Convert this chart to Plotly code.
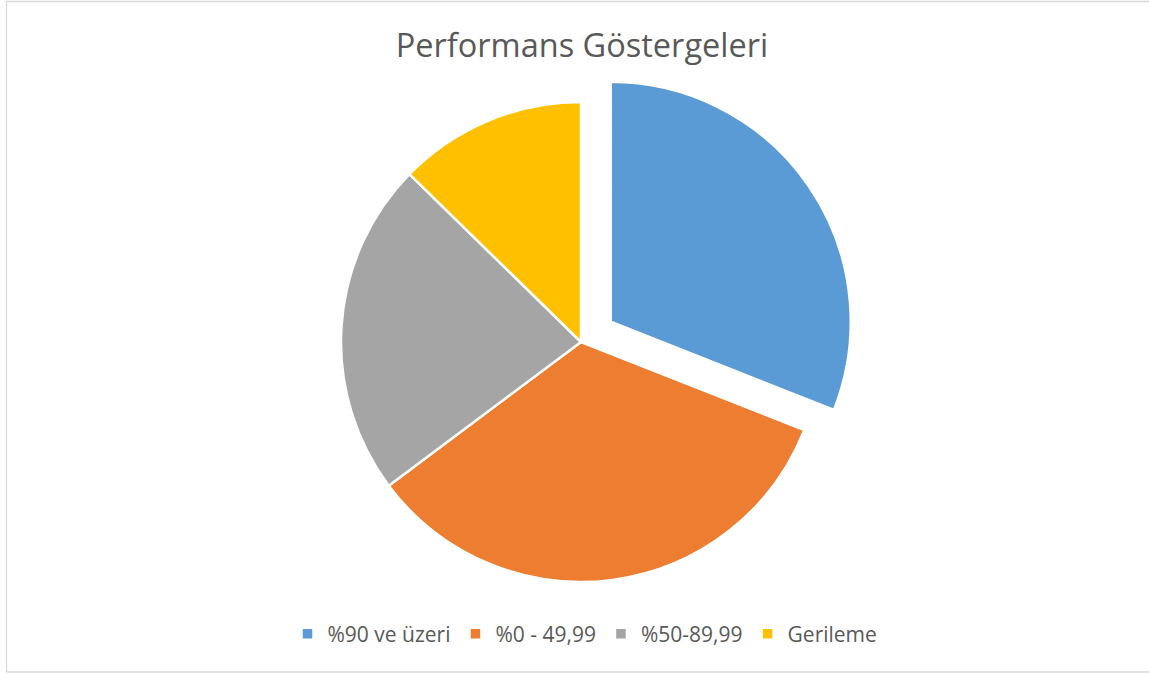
import plotly.graph_objects as go

categories = ["%90 ve üzeri", "%0 - 49,99", "%50-89,99", "Gerileme"]
values = [22, 24, 16, 9]
colors = ["#5B9BD5", "#ED7D31", "#A5A5A5", "#FFC000"]
pulls = [0.15, 0, 0, 0]

W, H = 1149, 674
cx, cy = 581, 342
half = 240 * 1.15

fig = go.Figure(go.Pie(
    labels=categories, values=values, sort=False, direction="clockwise", rotation=0,
    pull=pulls, textinfo="none", hoverinfo="label+value+percent",
    marker=dict(colors=colors, line=dict(color="white", width=2.5)),
    domain=dict(x=[(cx - 400) / W, (cx + 400) / W], y=[(H - cy - half) / H, (H - cy + half) / H]),
))

border = dict(color="#D9D9D9", width=1.3)
xl, yb, yt = 6.5 / W, 1 - 672 / H, 1 - 1.5 / H
fig.update_layout(
    width=W, height=H, margin=dict(l=0, r=0, t=0, b=0),
    paper_bgcolor="white", plot_bgcolor="white",
    title=dict(text="Performans Göstergeleri", x=582 / W, xanchor="center", y=1 - 46 / H, yanchor="middle",
               font=dict(family="Open Sans", size=32.5, color="#595959")),
    showlegend=True,
    legend=dict(orientation="h", x=585 / W, xanchor="center", y=1 - 634 / H, yanchor="middle",
                font=dict(family="Open Sans", size=21, color="#595959"), itemwidth=30,
                traceorder="normal"),
    shapes=[
        dict(type="line", xref="paper", yref="paper", x0=xl, x1=xl, y0=yb, y1=yt, line=border, layer="below"),
        dict(type="line", xref="paper", yref="paper", x0=xl, x1=1.0, y0=yt, y1=yt, line=border, layer="below"),
        dict(type="line", xref="paper", yref="paper", x0=xl, x1=1.0, y0=yb, y1=yb, line=border, layer="below"),
    ],
)

fig.write_html("out.html", config={"displayModeBar": False},
               post_script="document.body.style.margin='0';")
